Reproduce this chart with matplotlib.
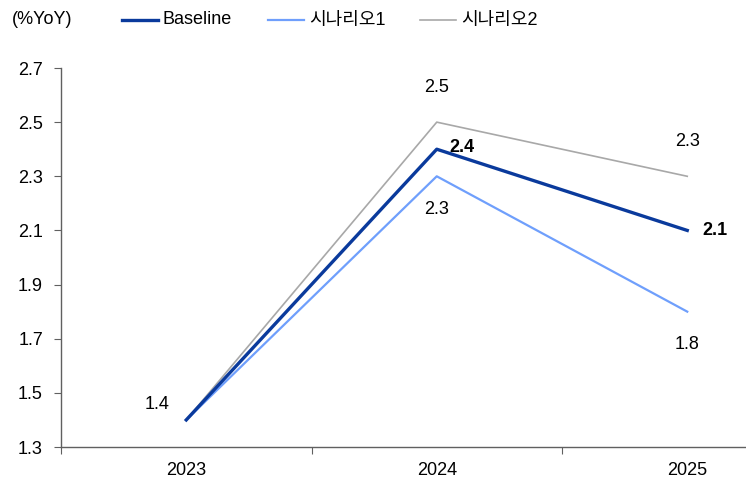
import matplotlib
matplotlib.use('Agg')
import matplotlib.pyplot as plt
from matplotlib.lines import Line2D
import numpy as np

plt.rcParams['font.family'] = ['Liberation Sans', 'Noto Sans CJK KR', 'DejaVu Sans']

# growth outlook, %YoY
years = ['2023', '2024', '2025']
baseline = [1.4, 2.4, 2.1]
scenario1 = [1.4, 2.3, 1.8]
scenario2 = [1.4, 2.5, 2.3]
series_names = ['Baseline', '시나리오1', '시나리오2']
yticks = [1.3, 1.5, 1.7, 1.9, 2.1, 2.3, 2.5, 2.7]

c_base = '#0a3a9c'
c_s1 = '#6f9ffc'
c_s2 = '#a8a8a8'
W, H = 746, 482
FS = 13

fig = plt.figure(figsize=(W / 100, H / 100), dpi=100)
ax = fig.add_axes([61 / W, 1 - 447 / H, 1 - 61 / W, (447 - 68) / H])

x = np.arange(len(years)) + 0.5
ax.plot(x, scenario2, color=c_s2, lw=1.2, zorder=2)
ax.plot(x, scenario1, color=c_s1, lw=1.6, zorder=3)
ax.plot(x, baseline, color=c_base, lw=2.4, zorder=4)

ax.set_xlim(0, 685 / 250.5)
ax.set_ylim(1.3, 2.7)
ax.set_yticks(yticks)
ax.set_yticklabels(['{:.1f}'.format(v) for v in yticks])
ax.set_xticks([0, 1, 2])
ax.set_xticklabels([])
ax.set_xticks(x, minor=True)
ax.set_xticklabels(years, minor=True)
ax.tick_params(axis='x', which='minor', length=0, pad=11, labelsize=FS)
ax.tick_params(axis='x', which='major', length=5, direction='out', color='#606060')
ax.tick_params(axis='y', length=5, direction='out', color='#606060', labelsize=FS, pad=8)

for side in ['top', 'right']:
    ax.spines[side].set_visible(False)
for side in ['left', 'bottom']:
    ax.spines[side].set_color('#606060')
    ax.spines[side].set_linewidth(1.0)

# value labels (offsets in points)
def label(xi, val, dx, dy, bold=False):
    ax.annotate('{:.1f}'.format(val), (x[xi], val), xytext=(dx, dy),
                textcoords='offset points', ha='center', va='center',
                fontsize=FS, fontweight='bold' if bold else 'normal', color='black')

label(0, baseline[0], -21, 11)
label(1, scenario2[1], 0, 25)
label(1, baseline[1], 18, 1, bold=True)
label(1, scenario1[1], 0, -24)
label(2, scenario2[2], 0, 25)
label(2, baseline[2], 20, 0, bold=True)
label(2, scenario1[2], 0, -24)

fig.text(12 / W, 1 - 20 / H, '(%YoY)', fontsize=FS, va='center', ha='left')

# legend row across the top
ly = 1 - 20 / H
legend_x = [122, 268, 420]
for name, color, lw, x0 in zip(series_names, [c_base, c_s1, c_s2], [2.4, 1.6, 1.2], legend_x):
    fig.add_artist(Line2D([x0 / W, (x0 + 36) / W], [ly, ly], color=color, lw=lw,
                          transform=fig.transFigure))
    fig.text((x0 + 41) / W, ly, name, fontsize=FS, va='center', ha='left')

fig.savefig('out.png', dpi=100)
